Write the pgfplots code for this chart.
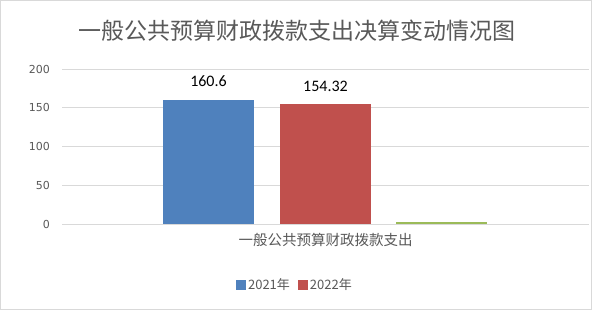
\documentclass[border=0pt]{standalone}
\usepackage{pgfplots}
\pgfplotsset{compat=1.18}
\usepackage{fontspec}
\setmainfont{Noto Sans CJK SC}
\newfontfamily\numfont{Carlito}
\newfontfamily\tickfont{DejaVu Sans}
\definecolor{cblue}{HTML}{4F81BD}
\definecolor{cred}{HTML}{C0504D}
\definecolor{cgreen}{HTML}{9BBB59}
\definecolor{ctext}{HTML}{595959}
\definecolor{cgrid}{HTML}{D9D9D9}
\begin{document}
\begin{tikzpicture}[x=1bp,y=1bp]
\useasboundingbox (0,0) rectangle (592,310);
\fill[white] (0,0) rectangle (592,310);
\draw[color=cgrid, line width=1bp] (0.5,0.5) rectangle (591.5,309.5);
\node[text=ctext, font=\fontsize{23bp}{26bp}\selectfont] at (297,279) {一般公共预算财政拨款支出决算变动情况图};
\begin{axis}[
  at={(62bp,86bp)}, anchor=south west,
  width=527bp, height=155bp, scale only axis,
  xmin=-1, xmax=1, ymin=0, ymax=200,
  ytick={0,50,100,150,200},
  xtick={0}, xticklabels={一般公共预算财政拨款支出},
  major tick length=0pt,
  ymajorgrids, grid style={cgrid, line width=0.8bp},
  axis x line*=bottom, axis y line*=left,
  x axis line style={cgrid, line width=0.8bp, -},
  y axis line style={draw=none},
  /pgf/number format/assume math mode=true,
  yticklabel style={font=\tickfont\fontsize{11bp}{12bp}\selectfont, text=ctext, inner sep=0pt, xshift=-12bp},
  xticklabel style={font=\fontsize{14.5bp}{16bp}\selectfont, text=ctext, inner sep=0pt, yshift=-9bp},
  nodes near coords style={font=\numfont\fontsize{16bp}{18bp}\selectfont, text=black, anchor=south, inner sep=0pt, yshift=13bp},
  legend style={at={(0.442,-0.394)}, anchor=center, draw=none, fill=none, legend columns=2,
    font=\fontsize{13bp}{15bp}\selectfont, text=ctext,
    /tikz/every even column/.append style={column sep=6bp}},
  legend image code/.code={\fill[#1] (0bp,-5bp) rectangle (10bp,5bp);},
]
\addplot[ybar, bar width=91bp, bar shift=-117bp, fill=cblue, draw=none, nodes near coords,
  every node near coord/.append style={xshift=-117bp}] coordinates {(0,160.6)};
\addlegendentry{2021年}
\addplot[ybar, bar width=91bp, bar shift=0bp, fill=cred, draw=none, nodes near coords] coordinates {(0,154.32)};
\addlegendentry{2022年}
\addplot[ybar, bar width=91bp, bar shift=116bp, fill=cgreen, draw=none, forget plot] coordinates {(0,2.5)};
\end{axis}
\end{tikzpicture}
\end{document}
